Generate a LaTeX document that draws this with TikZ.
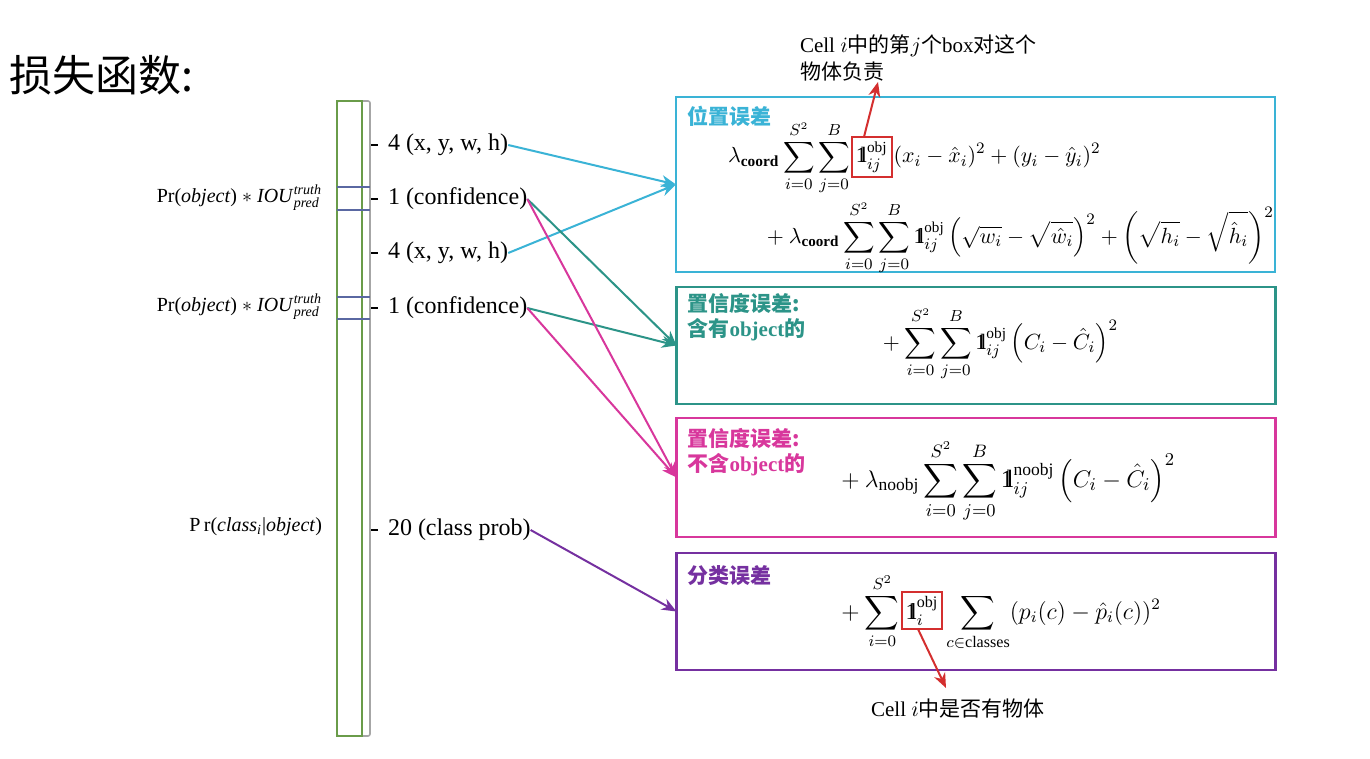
\documentclass[tikz,border=0pt]{standalone}
\usepackage{amsmath}
\usepackage{fontspec}
\setmainfont{Liberation Serif}
\newfontfamily\cjk{Noto Sans CJK SC}
\usetikzlibrary{arrows.meta,positioning,calc}
\definecolor{cyanb}{HTML}{3AB3D6}
\definecolor{tealb}{HTML}{2C9488}
\definecolor{pinkb}{HTML}{D8379C}
\definecolor{purpb}{HTML}{7530A0}
\definecolor{barg}{HTML}{6A9C4A}
\definecolor{barb}{HTML}{5A68A2}
\definecolor{redb}{HTML}{D42F2F}
\newcommand{\indone}{\mathrm{1}\mkern-5mu\mathrm{l}}

\begin{document}
\begin{tikzpicture}[x=0.5pt,y=-0.5pt,
  every node/.style={inner sep=0pt,outer sep=0pt},
  lbl/.style={font=\fontsize{12}{14}\selectfont,anchor=west},
  side/.style={font=\fontsize{10}{12}\selectfont,anchor=east},
  lossbox/.style={draw=#1,line width=1.1pt,minimum width=299.5pt},
  head/.style={font=\cjk\bfseries\fontsize{10.5}{12.5}\selectfont,text=#1,align=left,anchor=north west},
  fml/.style={font=\fontsize{11}{13}\selectfont,anchor=base west},
  redframe/.style={draw=redb,line width=1pt,inner sep=2pt,anchor=base west},
  note/.style={font=\fontsize{10.5}{13.5}\selectfont,align=left},
  arrow/.style={-{Stealth[length=2.6mm,width=2.1mm]},line width=1pt}
]
\path[fill=white,use as bounding box] (0,0) rectangle (1370,759);
\node[font=\cjk\fontsize{21.5}{24}\selectfont,anchor=west] (title) at (10,75) {损失函数:};
% the output column
\draw[gray!70,line width=0.8pt,rounded corners=1pt] (337,101) rectangle (370,736);
\draw[barg,line width=1pt] (337,101) rectangle (362,736);
\foreach \y in {187,210,297,319} \draw[barb,line width=0.8pt] (337,\y) -- (370,\y);
\foreach \y in {145,199,253,308,530} \draw[line width=0.9pt] (371,\y) -- (378,\y);
\node[lbl] (xywh1) at (388,145) {4 (x, y, w, h)};
\node[lbl] (conf1) at (388,199) {1 (confidence)};
\node[lbl] (xywh2) at (388,253) {4 (x, y, w, h)};
\node[lbl] (conf2) at (388,308) {1 (confidence)};
\node[lbl] (prob) at (388,530) {20 (class prob)};
\node[side] (iou1) at (322,198) {Pr(\textit{object}) $\ast$ \textit{IOU}$^{\textit{truth}}_{\textit{pred}}$};
\node[side] (iou2) at (322,307) {Pr(\textit{object}) $\ast$ \textit{IOU}$^{\textit{truth}}_{\textit{pred}}$};
\node[side] (pcls) at (322,527) {P\,r(\textit{class}$_{\textit{i}}$|\textit{object})};
% loss terms
\node[lossbox=cyanb,minimum height=87.5pt] (loc) at (975.5,184.5) {};
\node[lossbox=tealb,minimum height=58.5pt] (conf) at (976,345.5) {};
\node[lossbox=pinkb,minimum height=59.5pt] (noobj) at (976,477.5) {};
\node[lossbox=purpb,minimum height=58.5pt] (cls) at (976,611.5) {};
\node[head=cyanb] (loct) at ([xshift=5.5pt,yshift=-4.5pt]loc.north west) {位置误差};
\node[head=tealb] (conft) at ([xshift=5.5pt,yshift=-3pt]conf.north west) {置信度误差:\\含有{\rmfamily object}的};
\node[head=pinkb] (noobjt) at ([xshift=5.5pt,yshift=-5pt]noobj.north west) {置信度误差:\\不含{\rmfamily object}的};
\node[head=purpb] (clst) at ([xshift=5.5pt,yshift=-6pt]cls.north west) {分类误差};
\node[fml] (f1a) at (728,163) {$\displaystyle \lambda_{\textbf{coord}}\sum_{i=0}^{S^2}\sum_{j=0}^{B}$};
\node[redframe,font=\fontsize{11}{13}\selectfont] (ind1) at ([xshift=1pt]f1a.base east) {$\displaystyle \indone_{ij}^{\text{obj}}$};
\node[fml] (f1b) at ([xshift=1pt]ind1.base east) {$\displaystyle (x_i-\hat{x}_i)^2+(y_i-\hat{y}_i)^2$};
\node[fml,font=\fontsize{10.8}{13}\selectfont] (f1c) at (762,243) {$\displaystyle {}+\lambda_{\textbf{coord}}\sum_{i=0}^{S^2}\sum_{j=0}^{B}\indone_{ij}^{\text{obj}}\left(\sqrt{w_i}-\sqrt{\hat{w}_i}\right)^2+\left(\sqrt{h_i}-\sqrt{\hat{h}_i}\right)^2$};
\node[fml] (f2) at (878,349) {$\displaystyle {}+\sum_{i=0}^{S^2}\sum_{j=0}^{B}\indone_{ij}^{\text{obj}}\left(C_i-\hat{C}_i\right)^2$};
\node[fml,font=\fontsize{12.5}{14}\selectfont] (f3) at (836,487) {$\displaystyle {}+\lambda_{\text{noobj}}\sum_{i=0}^{S^2}\sum_{j=0}^{B}\indone_{ij}^{\text{noobj}}\left(C_i-\hat{C}_i\right)^2$};
\node[fml,font=\fontsize{11.5}{13}\selectfont] (f4a) at (836,619) {$\displaystyle {}+\sum_{i=0}^{S^2}$};
\node[redframe,font=\fontsize{11.5}{13}\selectfont] (ind2) at ([xshift=1pt]f4a.base east) {$\displaystyle \indone_{i}^{\text{obj}}$};
\node[fml,font=\fontsize{11.5}{13}\selectfont] (f4b) at ([xshift=2pt]ind2.base east) {$\displaystyle \sum_{c\in\text{classes}}(p_i(c)-\hat{p}_i(c))^2$};
% notes on the indicators
\node[note,anchor=north west] (why) at (800,35) {Cell $i${\cjk 中的第}$j${\cjk 个}box{\cjk 对这个}\\{\cjk 物体负责}};
\node[note] (has) at (958,709) {Cell $i${\cjk 中是否有物体}};
\coordinate (whytip) at (878,82);
\coordinate (hastip) at (946,688);
\draw[arrow,redb] ([xshift=-4pt]ind1.north) -- (whytip);
\draw[arrow,redb] ([xshift=-2pt]ind2.south) -- (hastip);
% outputs to loss terms
\draw[arrow,cyanb] (xywh1.east) -- (loc.west);
\draw[arrow,cyanb] (xywh2.east) -- (loc.west);
\draw[arrow,tealb] (conf1.east) -- (conf.west);
\draw[arrow,tealb] (conf2.east) -- (conf.west);
\draw[arrow,pinkb] (conf1.east) -- (noobj.west);
\draw[arrow,pinkb] (conf2.east) -- (noobj.west);
\draw[arrow,purpb] (prob.east) -- (cls.west);
\end{tikzpicture}
\end{document}
